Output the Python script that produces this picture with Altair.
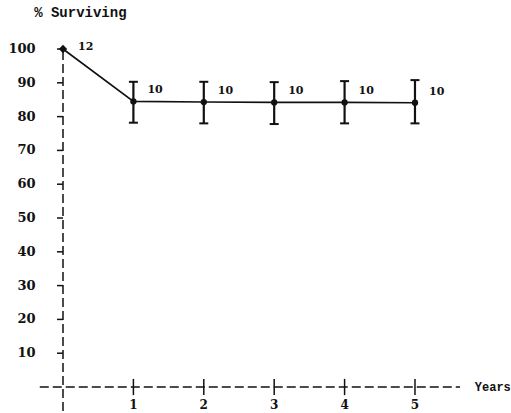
import altair as alt
import pandas as pd

# Survival over follow-up years
years = [0, 1, 2, 3, 4, 5]
pct_surviving = [100.0, 84.5, 84.3, 84.2, 84.2, 84.1]
ci_low = [None, 78.2, 78.0, 77.8, 78.0, 78.0]
ci_high = [None, 90.3, 90.3, 90.2, 90.5, 90.8]
n_patients = [12, 10, 10, 10, 10, 10]

y_tick_values = [10, 20, 30, 40, 50, 60, 70, 80, 90, 100]
x_tick_values = [1, 2, 3, 4, 5]

# Hand-drawn axes: extents in data units
X_AXIS_FROM, X_AXIS_TO = -0.33, 5.64
Y_AXIS_FROM, Y_AXIS_TO = -7.1, 100
Y_TICK_LEN = 0.085   # years
X_TICK_HALF = 2.4    # percent
Y_LABEL_X = -0.39
X_LABEL_Y = -5.4

W, H = 511, 413
xs = alt.Scale(domain=[-0.895, 6.364], nice=False, zero=False)
ys = alt.Scale(domain=[-7.69, 114.5], nice=False, zero=False)

INK = "#111111"
NUM_FONT = "DejaVu Serif"
MONO_FONT = "Liberation Mono"

data = pd.DataFrame({
    "year": years,
    "pct": pct_surviving,
    "lo": ci_low,
    "hi": ci_high,
    "n": n_patients,
})
bars = data.dropna(subset=["lo"])


def X(field):
    return alt.X(field, type="quantitative", scale=xs, axis=None)


def Y(field):
    return alt.Y(field, type="quantitative", scale=ys, axis=None)


# Dashed axis lines
axes_df = pd.DataFrame({
    "x": [X_AXIS_FROM, 0.0],
    "x2": [X_AXIS_TO, 0.0],
    "y": [0.0, Y_AXIS_FROM],
    "y2": [0.0, Y_AXIS_TO],
})
axis_lines = alt.Chart(axes_df).mark_rule(
    color=INK, strokeWidth=1.5, strokeDash=[9, 4]
).encode(x=X("x"), x2="x2", y=Y("y"), y2="y2")

# Y ticks pointing left
yt = pd.DataFrame({"v": y_tick_values})
y_ticks = alt.Chart(yt).transform_calculate(
    x0=f"{-Y_TICK_LEN}", x1="0"
).mark_rule(color=INK, strokeWidth=1.5).encode(
    x=X("x0"), x2="x1:Q", y=Y("v")
)
y_labels = alt.Chart(yt).transform_calculate(
    lx=f"{Y_LABEL_X}"
).mark_text(
    align="right", baseline="middle", font=NUM_FONT, fontSize=13,
    fontWeight="bold", color=INK
).encode(x=X("lx"), y=Y("v"), text="v:Q")

# X ticks crossing the axis
xt = pd.DataFrame({"v": x_tick_values})
x_ticks = alt.Chart(xt).transform_calculate(
    y0=f"{-X_TICK_HALF}", y1=f"{X_TICK_HALF}"
).mark_rule(color=INK, strokeWidth=1.5).encode(
    x=X("v"), y=Y("y0"), y2="y1:Q"
)
x_labels = alt.Chart(xt).transform_calculate(
    ly=f"{X_LABEL_Y}"
).mark_text(
    align="center", baseline="middle", font=NUM_FONT, fontSize=12,
    fontWeight="bold", color=INK
).encode(x=X("v"), y=Y("ly"), text="v:Q")

# Axis titles
y_title = alt.Chart(pd.DataFrame({"x": [Y_LABEL_X - 0.02], "y": [110.7], "t": ["% Surviving"]})).mark_text(
    align="left", baseline="middle", font=MONO_FONT, fontSize=14,
    fontWeight="bold", color=INK
).encode(x=X("x"), y=Y("y"), text="t:N")
x_title = alt.Chart(pd.DataFrame({"x": [X_AXIS_TO + 0.21], "y": [0.0], "t": ["Years"]})).mark_text(
    align="left", baseline="middle", font=MONO_FONT, fontSize=12,
    fontWeight="bold", color=INK
).encode(x=X("x"), y=Y("y"), text="t:N")

# Survival curve
curve = alt.Chart(data).mark_line(color=INK, strokeWidth=1.6).encode(
    x=X("year"), y=Y("pct")
)
err_rules = alt.Chart(bars).mark_rule(color=INK, strokeWidth=2.2).encode(
    x=X("year"), y=Y("lo"), y2="hi:Q"
)
caps_lo = alt.Chart(bars).mark_tick(
    orient="horizontal", color=INK, size=9, thickness=2, opacity=1
).encode(x=X("year"), y=Y("lo"))
caps_hi = alt.Chart(bars).mark_tick(
    orient="horizontal", color=INK, size=9, thickness=2, opacity=1
).encode(x=X("year"), y=Y("hi"))
dots = alt.Chart(bars).mark_point(
    filled=True, color=INK, size=40, opacity=1, shape="circle"
).encode(x=X("year"), y=Y("pct"))
start_dot = alt.Chart(data).transform_filter("datum.year == 0").mark_point(
    filled=True, color=INK, size=70, opacity=1, shape="diamond"
).encode(x=X("year"), y=Y("pct"))

# Patients at risk beside each point
n_start = alt.Chart(data).transform_filter("datum.year == 0").mark_text(
    align="left", baseline="middle", dx=15, dy=-2, font=NUM_FONT,
    fontSize=11, fontWeight="bold", color=INK
).encode(x=X("year"), y=Y("pct"), text="n:Q")
n_later = alt.Chart(data).transform_filter("datum.year > 0").mark_text(
    align="left", baseline="middle", dx=14, dy=-11, font=NUM_FONT,
    fontSize=11, fontWeight="bold", color=INK
).encode(x=X("year"), y=Y("pct"), text="n:Q")

chart = alt.layer(
    axis_lines, y_ticks, y_labels, x_ticks, x_labels, y_title, x_title,
    curve, err_rules, caps_lo, caps_hi, dots, start_dot, n_start, n_later,
).properties(
    width=W, height=H, autosize=alt.AutoSizeParams(type="none"), padding=0,
    background="white",
).configure_view(stroke=None)

chart.save("out.html", embed_options={"renderer": "svg", "actions": False})
